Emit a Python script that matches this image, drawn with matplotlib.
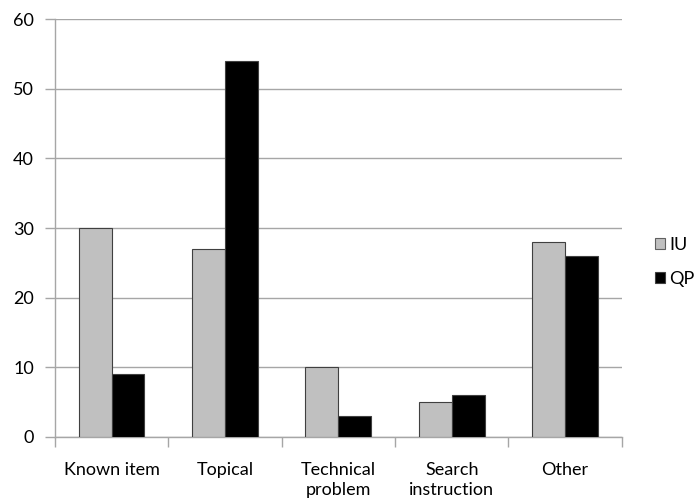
import matplotlib.pyplot as plt
import numpy as np
from matplotlib.patches import Patch

plt.rcParams['font.family'] = ['Lato', 'DejaVu Sans']

categories = ['Known item', 'Topical', 'Technical\nproblem', 'Search\ninstruction', 'Other']
iu_counts = [30, 27, 10, 5, 28]
qp_counts = [9, 54, 3, 6, 26]

x = np.arange(len(categories))
w = 0.29

fig = plt.figure(figsize=(6.94, 5.04), dpi=100)
ax = fig.add_axes([0.079, 0.133, 0.817, 0.829])

ax.bar(x - w / 2, iu_counts, w, color='#c0c0c0', edgecolor='#404040', linewidth=0.8, zorder=3)
ax.bar(x + w / 2, qp_counts, w, color='black', edgecolor='#404040', linewidth=0.8, zorder=3)

ax.set_xlim(-0.5, len(categories) - 0.5)
ax.set_ylim(0, 60)
ax.set_yticks(np.arange(0, 61, 10))
ax.yaxis.grid(True, color='#a6a6a6', linewidth=1, zorder=0)

ax.set_xticks(x)
ax.set_xticklabels(categories, fontsize=13, linespacing=1.3)
ax.set_xticks(np.arange(-0.5, len(categories)), minor=True)
ax.tick_params(axis='x', which='major', length=0, pad=18)
ax.tick_params(axis='x', which='minor', length=7, color='#a6a6a6', width=1)
ax.tick_params(axis='y', length=7, color='#a6a6a6', width=1, labelsize=13, pad=8)

for side in ['top', 'right']:
    ax.spines[side].set_visible(False)
for side in ['left', 'bottom']:
    ax.spines[side].set_color('#a6a6a6')
    ax.spines[side].set_linewidth(1)

handles = [Patch(facecolor='#c0c0c0', edgecolor='#606060', linewidth=0.8, label='IU'),
           Patch(facecolor='black', edgecolor='#404040', linewidth=0.8, label='QP')]
fig.legend(handles=handles, loc='center left', bbox_to_anchor=(0.944, 0.48),
           frameon=False, fontsize=13, handlelength=0.55, handleheight=0.55,
           handletextpad=0.25, labelspacing=1.0, borderaxespad=0, borderpad=0)

fig.savefig('out.png', dpi=100)
